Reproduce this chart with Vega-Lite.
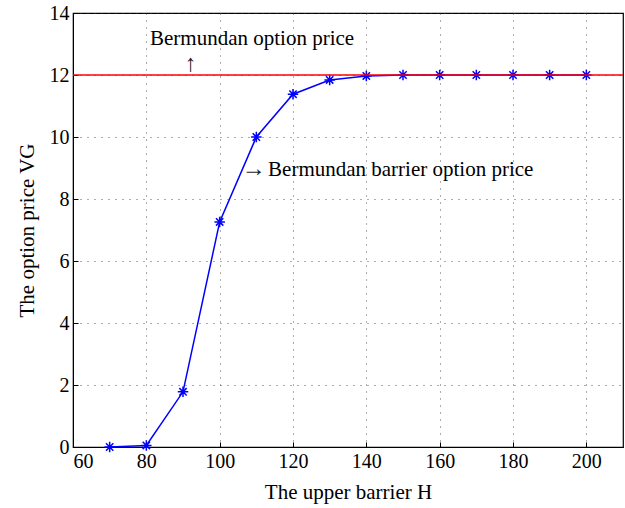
{
  "$schema": "https://vega.github.io/schema/vega-lite/v6.json",
  "width": 550,
  "height": 434,
  "autosize": "none",
  "padding": {"left": 73, "top": 13, "right": 2, "bottom": 61},
  "background": "white",
  "config": {
    "font": "Liberation Serif",
    "view": {"stroke": "black", "strokeWidth": 1.2},
    "axis": {
      "domainColor": "black",
      "tickColor": "black",
      "labelColor": "black",
      "titleColor": "black",
      "labelFont": "Liberation Serif",
      "titleFont": "Liberation Serif",
      "labelFontSize": 20,
      "titleFontSize": 21,
      "titleFontWeight": "normal",
      "gridColor": "#333333",
      "gridDash": [1, 6],
      "gridWidth": 1,
      "gridOpacity": 0.8,
      "tickSize": -5
    }
  },
  "datasets": {
    "curve": [
      {"H": 70, "price": 0.0},
      {"H": 80, "price": 0.05},
      {"H": 90, "price": 1.78},
      {"H": 100, "price": 7.26},
      {"H": 110, "price": 10.0},
      {"H": 120, "price": 11.38},
      {"H": 130, "price": 11.84},
      {"H": 140, "price": 11.97},
      {"H": 150, "price": 12.0},
      {"H": 160, "price": 12.0},
      {"H": 170, "price": 12.0},
      {"H": 180, "price": 12.0},
      {"H": 190, "price": 12.0},
      {"H": 200, "price": 12.0}
    ],
    "bermudan": [{"price": 12}],
    "labels": [
      {"H": 81.0, "price": 13.17, "label": "Bermundan option price"},
      {"H": 113.2, "price": 8.93, "label": "Bermundan barrier option price"}
    ],
    "arrows": [
      {"H": 92.1, "price": 12.36, "label": "↑"},
      {"H": 109.3, "price": 8.96, "label": "→"}
    ]
  },
  "layer": [
    {
      "data": {"name": "curve"},
      "mark": {"type": "line", "color": "#0000ff", "strokeWidth": 1.5},
      "encoding": {
        "x": {
          "field": "H",
          "type": "quantitative",
          "scale": {"domain": [60, 210], "nice": false},
          "axis": {"values": [60, 80, 100, 120, 140, 160, 180, 200], "title": "The upper barrier H", "labelPadding": 9, "titlePadding": 10, "grid": true}
        },
        "y": {
          "field": "price",
          "type": "quantitative",
          "scale": {"domain": [0, 14], "nice": false},
          "axis": {"values": [0, 2, 4, 6, 8, 10, 12, 14], "title": "The option price VG", "labelPadding": 9, "titlePadding": 12, "grid": true}
        }
      }
    },
    {
      "data": {"name": "curve"},
      "mark": {
        "type": "point",
        "shape": "M-1,0L1,0M0,-1L0,1M-0.7,-0.7L0.7,0.7M-0.7,0.7L0.7,-0.7",
        "filled": false,
        "color": "#0000ff",
        "strokeWidth": 1.5,
        "size": 110,
        "opacity": 1
      },
      "encoding": {
        "x": {"field": "H", "type": "quantitative"},
        "y": {"field": "price", "type": "quantitative"}
      }
    },
    {
      "data": {"name": "bermudan"},
      "mark": {"type": "rule", "color": "#ff0000", "strokeWidth": 1.5},
      "encoding": {
        "y": {"field": "price", "type": "quantitative"}
      }
    },
    {
      "data": {"name": "labels"},
      "mark": {"type": "text", "align": "left", "baseline": "middle", "fontSize": 21, "font": "Liberation Serif", "color": "black"},
      "encoding": {
        "x": {"field": "H", "type": "quantitative"},
        "y": {"field": "price", "type": "quantitative"},
        "text": {"field": "label", "type": "nominal"}
      }
    },
    {
      "data": {"name": "arrows"},
      "mark": {"type": "text", "align": "center", "baseline": "middle", "fontSize": 24, "font": "Liberation Serif", "color": "#222222"},
      "encoding": {
        "x": {"field": "H", "type": "quantitative"},
        "y": {"field": "price", "type": "quantitative"},
        "text": {"field": "label", "type": "nominal"}
      }
    }
  ]
}
